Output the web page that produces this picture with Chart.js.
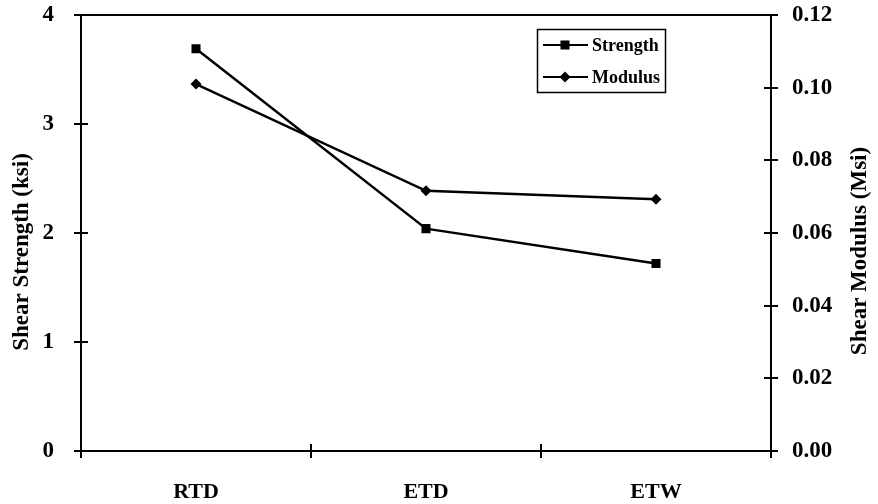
<!DOCTYPE html>
<html>
<head>
<meta charset="utf-8">
<script src="https://cdn.jsdelivr.net/npm/chart.js@4.4.0/dist/chart.umd.min.js"></script>
<style>
  html, body { margin: 0; padding: 0; background: #fff; }
  #wrap { width: 878px; height: 504px; }
</style>
</head>
<body>
<div id="wrap"><canvas id="c" width="878" height="504"></canvas></div>
<script>
// Test conditions and measured shear properties
const conditions = ['RTD', 'ETD', 'ETW'];
const shearStrength = [3.69, 2.04, 1.72];     // ksi
const shearModulus = [0.101, 0.0716, 0.0693]; // Msi
const strengthTicks = [0, 1, 2, 3, 4];
const modulusTicks = [0, 0.02, 0.04, 0.06, 0.08, 0.10, 0.12];
const leftTitle = 'Shear Strength (ksi)';
const rightTitle = 'Shear Modulus (Msi)';

const SERIF = "'Liberation Serif', 'Times New Roman', serif";
const INK = '#000';

function markerPath(ctx, style, r, x, y) {
  ctx.beginPath();
  if (style === 'rect') {
    const s = Math.SQRT1_2 * r;
    ctx.rect(x - s, y - s, 2 * s, 2 * s);
  } else {
    ctx.moveTo(x - r, y);
    ctx.lineTo(x, y - r);
    ctx.lineTo(x + r, y);
    ctx.lineTo(x, y + r);
    ctx.closePath();
  }
}

// Frame, crossing tick marks, axis titles and the inset legend
const decorations = {
  id: 'decorations',
  afterDraw(chart) {
    const { ctx, chartArea: a, scales } = chart;
    ctx.save();
    ctx.strokeStyle = INK;
    ctx.fillStyle = INK;

    ctx.lineWidth = 2;
    ctx.strokeRect(a.left, a.top, a.right - a.left, a.bottom - a.top);

    const T = 7;
    ctx.beginPath();
    scales.y.ticks.forEach(t => {
      const y = Math.round(scales.y.getPixelForValue(t.value));
      ctx.moveTo(a.left - T, y); ctx.lineTo(a.left + T, y);
    });
    scales.y1.ticks.forEach(t => {
      const y = Math.round(scales.y1.getPixelForValue(t.value));
      ctx.moveTo(a.right - T, y); ctx.lineTo(a.right + T, y);
    });
    const n = conditions.length;
    for (let i = 0; i <= n; i++) {
      const x = Math.round(a.left + i * (a.right - a.left) / n);
      ctx.moveTo(x, a.bottom - T); ctx.lineTo(x, a.bottom + T);
    }
    ctx.stroke();

    // axis titles
    ctx.font = 'bold 23px ' + SERIF;
    ctx.textAlign = 'center';
    ctx.textBaseline = 'middle';
    ctx.save();
    ctx.translate(22, 252);
    ctx.rotate(-Math.PI / 2);
    ctx.fillText(leftTitle, 0, 0);
    ctx.restore();
    ctx.save();
    ctx.translate(860, 251);
    ctx.rotate(-Math.PI / 2);
    ctx.fillText(rightTitle, 0, 0);
    ctx.restore();

    // legend
    const bx = a.right - 234, by = a.top + 14, bw = 128, bh = 63;
    ctx.lineWidth = 1.5;
    ctx.strokeRect(bx + 0.5, by + 0.5, bw, bh);
    ctx.font = 'bold 18px ' + SERIF;
    ctx.textAlign = 'left';
    chart.data.datasets.forEach((ds, i) => {
      const y = by + 16 + i * 32;
      ctx.lineWidth = 2;
      ctx.beginPath();
      ctx.moveTo(bx + 6, y); ctx.lineTo(bx + 51, y);
      ctx.stroke();
      markerPath(ctx, ds.pointStyle, ds.pointRadius, bx + 28, y);
      ctx.fill();
      ctx.fillText(ds.label, bx + 55, y + 1);
    });
    ctx.restore();
  }
};

function fixVertical(width) {
  return s => { s.width = width; s.paddingTop = 0; s.paddingBottom = 0; };
}

new Chart(document.getElementById('c'), {
  type: 'line',
  data: {
    labels: conditions,
    datasets: [
      {
        label: 'Strength',
        data: shearStrength,
        yAxisID: 'y',
        borderColor: INK,
        backgroundColor: INK,
        borderWidth: 2.5,
        pointStyle: 'rect',
        pointRadius: 6.4,
        pointBorderWidth: 0,
        tension: 0
      },
      {
        label: 'Modulus',
        data: shearModulus,
        yAxisID: 'y1',
        borderColor: INK,
        backgroundColor: INK,
        borderWidth: 2.5,
        pointStyle: 'rectRot',
        pointRadius: 5.5,
        pointBorderWidth: 0,
        tension: 0
      }
    ]
  },
  options: {
    responsive: false,
    animation: false,
    devicePixelRatio: 1,
    layout: { padding: { top: 15, left: 0, right: 0, bottom: 0 } },
    plugins: { legend: { display: false }, tooltip: { enabled: false } },
    scales: {
      x: {
        type: 'category',
        offset: true,
        grid: { display: false, drawTicks: false },
        border: { display: false },
        ticks: { color: INK, padding: 28, maxRotation: 0, font: { family: SERIF, size: 22, weight: 'bold' } },
        afterFit: s => { s.height = 53; s.paddingLeft = 0; s.paddingRight = 0; }
      },
      y: {
        position: 'left',
        min: 0, max: 4,
        grid: { display: false, drawTicks: false },
        border: { display: false },
        afterBuildTicks: s => { s.ticks = strengthTicks.map(v => ({ value: v })); },
        ticks: { color: INK, padding: 27, font: { family: SERIF, size: 23, weight: 'bold' }, callback: v => String(v) },
        afterFit: fixVertical(81)
      },
      y1: {
        position: 'right',
        min: 0, max: 0.12,
        grid: { display: false, drawTicks: false },
        border: { display: false },
        afterBuildTicks: s => { s.ticks = modulusTicks.map(v => ({ value: v })); },
        ticks: { color: INK, padding: 21, font: { family: SERIF, size: 23, weight: 'bold' }, callback: v => Number(v).toFixed(2) },
        afterFit: fixVertical(107)
      }
    }
  },
  plugins: [decorations]
});
</script>
</body>
</html>
